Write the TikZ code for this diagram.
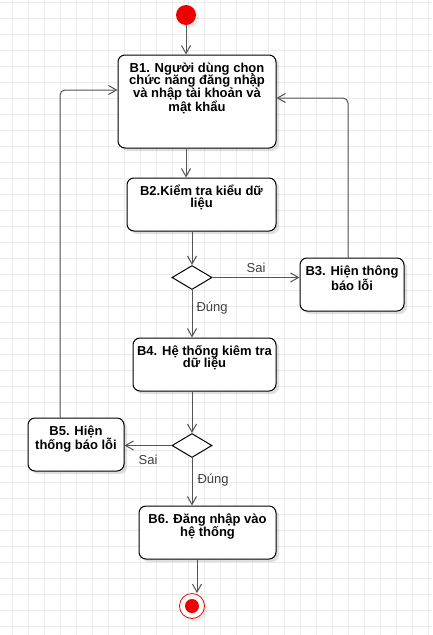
\documentclass[tikz,border=0pt]{standalone}
\usepackage{fontspec}
\setmainfont{Liberation Sans}
\usetikzlibrary{arrows.meta,calc,shadows,shapes.geometric}

\definecolor{startred}{RGB}{238,0,0}
\definecolor{edgegray}{RGB}{85,85,85}
\definecolor{gridgray}{RGB}{236,236,236}
\newcommand{\fl}{\rule{0pt}{13pt}}

\begin{document}
\begin{tikzpicture}[
	x=1pt, y=-1pt,
	box/.style = {rectangle, rounded corners=7pt, draw=black, line width=1pt,
		fill=white, inner sep=0pt,
		drop shadow={shadow xshift=3pt, shadow yshift=-3pt, fill=black, opacity=.12}},
	boxtext/.style = {anchor=north, yshift=-4.5pt, align=center, inner sep=0pt,
		font=\fontsize{13}{12.5}\selectfont\bfseries},
	choice/.style = {diamond, draw=black, line width=1pt, fill=white,
		inner sep=0pt, minimum width=40pt, minimum height=24pt},
	startdot/.style = {circle, fill=startred, inner sep=0pt, minimum size=20pt,
		drop shadow={shadow xshift=3pt, shadow yshift=-3pt, fill=black, opacity=.08}},
	enddot/.style = {circle, draw=startred, line width=.8pt, fill=white,
		inner sep=0pt, minimum size=25pt,
		drop shadow={shadow xshift=3pt, shadow yshift=-3pt, fill=black, opacity=.08}},
	arr/.style = {draw=edgegray, line width=1pt,
		-{Straight Barb[length=8pt, width=9pt]}},
	lbl/.style = {font=\fontsize{13}{15}\selectfont, text=black!75, inner sep=0pt},
	gridline/.style = {draw=gridgray, line width=1pt},
	]
	% background and grid
	\fill[white] (0,0) rectangle (432,635);
	\useasboundingbox (0,0) rectangle (432,635);
	\foreach \gx in {12,28,...,428}
	\draw[gridline] (\gx,0) -- (\gx,635);
	\foreach \gy in {2,18,...,626}
	\draw[gridline] (0,\gy) -- (432,\gy);

	% steps
	\node[startdot] (start) at (186,15) {};

	\node[box, minimum width=158pt, minimum height=93pt,
	label={[boxtext]north:{\fl B1. Người dùng chọn\\chức năng đăng nhập\\và nhập tài khoản và\\mật khẩu}}] (b1) at (197,101.5) {};

	\node[box, minimum width=149pt, minimum height=53pt,
	label={[boxtext]north:{\fl B2.Kiểm tra kiểu dữ\\liệu}}] (b2) at (201.5,204.5) {};

	\node[choice] (d1) at (192,277.5) {};

	\node[box, minimum width=104pt, minimum height=53pt,
	label={[boxtext]north:{\fl B3. Hiện thông\\báo lỗi}}] (b3) at (352,284.5) {};

	\node[box, minimum width=143pt, minimum height=53pt,
	label={[boxtext]north:{\fl B4. Hệ thống kiêm tra\\dữ liệu}}] (b4) at (204.5,364.5) {};

	\node[choice] (d2) at (192,445.5) {};

	\node[box, minimum width=96pt, minimum height=53pt,
	label={[boxtext]north:{\fl B5. Hiện\\thống báo lỗi}}] (b5) at (76,444.5) {};

	\node[box, minimum width=137pt, minimum height=53pt,
	label={[boxtext]north:{\fl B6. Đăng nhập vào\\hệ thống}}] (b6) at (207.5,532.5) {};

	\node[enddot] (endn) at (192,606) {};
	\fill[startred] (endn) circle (7pt);
	\coordinate (endin) at ($(endn.north)+(5,0)$);

	% connectors
	\draw[arr] (start) -- (start |- b1.north);
	\draw[arr] (b1.south -| start) -- (b2.north -| start);
	\draw[arr] (b2.south -| d1) -- (d1.north);
	\draw[arr] (d1.east) -- (d1.east -| b3.west) node[lbl, midway, yshift=10pt] {Sai};
	\draw[arr] (d1.south) -- (d1.south |- b4.north) node[lbl, pos=.38, anchor=west, xshift=4pt] {Đúng};
	\draw[arr, rounded corners=5pt] ($(b3.north)+(-4,0)$) |- ($(b1.east)+(0,-3.5)$);

	\draw[arr] (b4.south -| d2) -- (d2.north);
	\draw[arr] (d2.west) -- (d2.west -| b5.east) node[lbl, midway, yshift=-14.5pt] {Sai};
	\draw[arr] (d2.south) -- (d2.south |- b6.north) node[lbl, pos=.47, anchor=west, xshift=5pt] {Đúng};
	\draw[arr, rounded corners=5pt] ($(b5.north)+(-16,0)$) |- ($(b1.west)+(0,-11.5)$);

	\draw[arr] (b6.south -| endin) -- (endin);
\end{tikzpicture}
\end{document}
